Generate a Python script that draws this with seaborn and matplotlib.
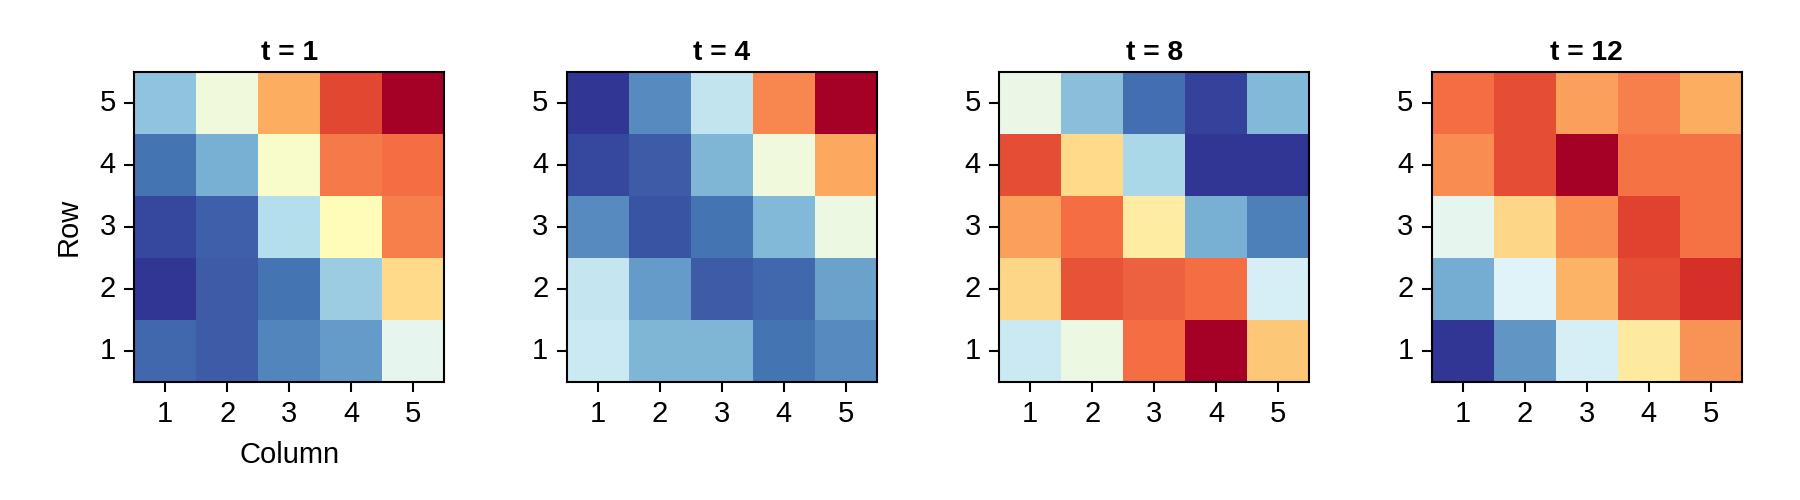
import numpy as np
import pandas as pd
import matplotlib
matplotlib.use("Agg")
import matplotlib.pyplot as plt
import seaborn as sns

plt.rcParams['font.family'] = ['Liberation Sans', 'DejaVu Sans']
plt.rcParams['font.size'] = 14

# Grid labels
columns = [1, 2, 3, 4, 5]
rows = [1, 2, 3, 4, 5]
titles = ["t = 1", "t = 4", "t = 8", "t = 12"]

# Values per time step, listed row 1 (bottom) to row 5 (top), columns 1..5
t1 = [
    [0.08, 0.06, 0.13, 0.17, 0.42],
    [0.00, 0.06, 0.10, 0.27, 0.61],
    [0.03, 0.07, 0.32, 0.51, 0.77],
    [0.10, 0.21, 0.48, 0.78, 0.80],
    [0.25, 0.45, 0.70, 0.86, 1.00],
]
t4 = [
    [0.36, 0.22, 0.22, 0.10, 0.14],
    [0.35, 0.17, 0.06, 0.08, 0.18],
    [0.14, 0.05, 0.10, 0.23, 0.44],
    [0.03, 0.06, 0.22, 0.45, 0.71],
    [0.00, 0.14, 0.34, 0.76, 1.00],
]
t8 = [
    [0.36, 0.44, 0.80, 1.00, 0.65],
    [0.62, 0.84, 0.82, 0.80, 0.38],
    [0.72, 0.80, 0.56, 0.21, 0.12],
    [0.85, 0.61, 0.30, 0.00, 0.00],
    [0.43, 0.24, 0.09, 0.02, 0.23],
]
t12 = [
    [0.00, 0.16, 0.38, 0.57, 0.74],
    [0.20, 0.40, 0.69, 0.85, 0.90],
    [0.42, 0.62, 0.75, 0.87, 0.79],
    [0.75, 0.85, 1.00, 0.79, 0.79],
    [0.80, 0.85, 0.72, 0.77, 0.70],
]
series = [t1, t4, t8, t12]

fig, axes = plt.subplots(1, 4, figsize=(12, 10 / 3), dpi=150)
fig.subplots_adjust(left=0.0744, right=0.9678, bottom=0.236, top=0.856, wspace=0.3935)

for i, (ax, vals, title) in enumerate(zip(axes, series, titles)):
    df = pd.DataFrame(vals, index=rows, columns=columns).sort_index(ascending=False)
    sns.heatmap(df, ax=ax, cmap="RdYlBu_r", cbar=False, square=True)
    for s in ax.spines.values():
        s.set_visible(True)
        s.set_linewidth(1.0)
        s.set_color("black")
    ax.tick_params(axis='both', length=4.8, width=1.0, color='black', labelsize=14, pad=4)
    ax.tick_params(axis='y', rotation=0)
    ax.tick_params(axis='x', rotation=0)
    ax.set_title(title, fontweight='bold', fontsize=13.5, pad=6)
    if i == 0:
        ax.set_xlabel("Column", fontsize=14, labelpad=6)
        ax.set_ylabel("Row", fontsize=14, labelpad=8)
    else:
        ax.set_xlabel("")
        ax.set_ylabel("")

fig.savefig("out.png", dpi=150, facecolor="white")
